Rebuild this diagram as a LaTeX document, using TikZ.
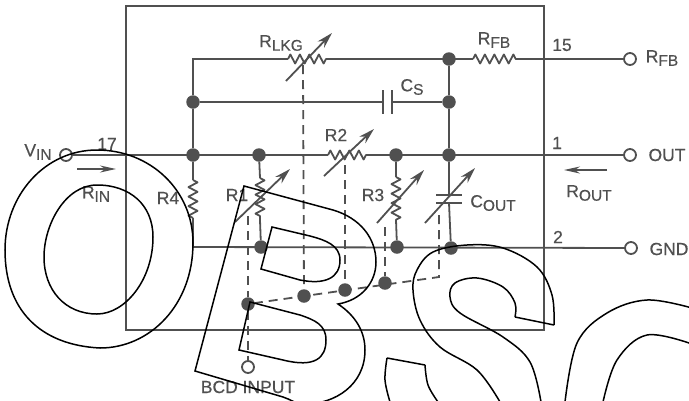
\documentclass[tikz,border=0pt]{standalone}
\usepackage{fontspec}
\setmainfont[FakeBold=0.5]{Liberation Sans}
\usetikzlibrary{arrows.meta}
\usetikzlibrary{decorations.pathmorphing}
\definecolor{ink}{HTML}{505050}
\newcommand{\lowtxt}[1]{\raisebox{-3.5pt}{\fontsize{15.5}{15.5}\selectfont #1}}
\tikzset{
    wire/.style={ink, line width=1.8pt},
    zig/.style={wire, line join=round, decorate, decoration={zigzag, amplitude=4.5pt, segment length=9.5pt}},
    dash wire/.style={ink, line width=1.8pt, dash pattern=on 9pt off 6pt},
    adjust/.style={ink, line width=1.8pt, -{Stealth[length=16pt, width=9pt]}},
    flow/.style={ink, line width=1.8pt, -{Stealth[length=16pt, width=7pt]}},
    junction/.style={circle, fill=ink, inner sep=0pt, minimum size=13.5pt},
    port/.style={circle, draw=ink, line width=1.8pt, fill=white, inner sep=0pt, minimum size=12pt},
    lbl/.style={text=ink, inner sep=0pt, font=\fontsize{17.5}{18}\selectfont},
    wmark/.style={black, line width=1.5pt, line join=miter},
}
\begin{document}
\begin{tikzpicture}[x=1pt,y=-1pt]
    \useasboundingbox (0,0) rectangle (689,400);
    \clip (0,0) rectangle (689,400);
    % package outline
    \draw[wire] (126,6) rectangle (544,330);

    % junctions
    \node[junction] (jCsL) at (193,102) {};
    \node[junction] (jInL) at (193,155) {};
    \node[junction] (jInR1) at (259,155) {};
    \node[junction] (jOutR3) at (396,155) {};
    \node[junction] (jOut) at (449,155) {};
    \node[junction] (jCsR) at (449,102) {};
    \node[junction] (jFb) at (449,59) {};
    \node[junction] (jGndR1) at (261,247) {};
    \node[junction] (jGndR3) at (397,247) {};
    \node[junction] (jGndC) at (451,248) {};
    \node[junction] (jBcdA) at (248,304) {};
    \node[junction] (jBcdB) at (304,296) {};
    \node[junction] (jBcdC) at (345,290) {};
    \node[junction] (jBcdD) at (385,283) {};

    % ports
    \node[port] (pIn) at (66,155) {};
    \node[port] (pFb) at (630,59) {};
    \node[port] (pOut) at (630,155) {};
    \node[port] (pGnd) at (631,248) {};
    \node[port] (pBcd) at (248,367) {};

    % resistor ends
    \coordinate (topL) at (193,59);
    \coordinate (botL) at (193,247);
    \coordinate (lkgA) at (288,59);
    \coordinate (lkgB) at (329,59);
    \coordinate (fbA) at (473,59);
    \coordinate (fbB) at (516,59);
    \coordinate (r2A) at (328,155);
    \coordinate (r2B) at (367,155);
    \coordinate (r4A) at (193,180);
    \coordinate (r4B) at (193,218);
    \coordinate (r1A) at (260,178);
    \coordinate (r1B) at (260,220);
    \coordinate (r3A) at (396,177);
    \coordinate (r3B) at (396,220);
    \coordinate (csA) at (383,102);
    \coordinate (csB) at (392,102);
    \coordinate (coA) at (449,195);
    \coordinate (coB) at (449,203);
    \coordinate (bcdEnd) at (439,277);

    % wires
    \draw[wire] (jCsL) -- (topL) -- (lkgA);
    \draw[zig] (lkgA) -- (lkgB);
    \draw[wire] (lkgB) -- (fbA);
    \draw[zig] (fbA) -- (fbB);
    \draw[wire] (fbB) -- (pFb);
    \draw[wire] (jFb) -- (jCsR) -- (jOut);
    \draw[wire] (jInL) -- (jCsL) -- (csA);
    \draw[wire] (csB) -- (jCsR);
    \draw[wire] (383,90) -- (383,114);
    \draw[wire] (392,90) -- (392,114);
    \draw[wire] (pIn) -- (r2A);
    \draw[zig] (r2A) -- (r2B);
    \draw[wire] (r2B) -- (pOut);
    \draw[wire] (jInL) -- (r4A);
    \draw[zig] (r4A) -- (r4B);
    \draw[wire] (r4B) -- (botL) -- (pGnd);
    \draw[wire] (jInR1) -- (r1A);
    \draw[zig] (r1A) -- (r1B);
    \draw[wire] (r1B) -- (jGndR1);
    \draw[wire] (jOutR3) -- (r3A);
    \draw[zig] (r3A) -- (r3B);
    \draw[wire] (r3B) -- (jGndR3);
    \draw[wire] (jOut) -- (coA);
    \draw[wire] (coB) -- (jGndC);
    \draw[wire] (436,195) -- (462,195);
    \draw[wire] (436,203) -- (462,203);

    % adjust arrows
    \draw[adjust] (286,81) -- (332,33);
    \draw[adjust] (324,176) -- (374,129);
    \draw[adjust] (235,222) -- (290,169);
    \draw[adjust] (377,223) -- (424,170);
    \draw[adjust] (425,223) -- (475,168);
    \draw[flow] (77,169) -- (116,169);
    \draw[flow] (607,170) -- (564,170);

    % digital control
    \draw[dash wire] (303,65) -- (jBcdB);
    \draw[dash wire] (345,165) -- (jBcdC);
    \draw[dash wire] (385,227) -- (jBcdD);
    \draw[dash wire] (248,216) -- (jBcdA) -- (pBcd);
    \draw[dash wire] (439,215) -- (bcdEnd) -- (jBcdA);

    % labels
    \node[lbl] (tLkg) at (281,43) {R\lowtxt{LKG}};
    \node[lbl] (tFb) at (494,40) {R\lowtxt{FB}};
    \node[lbl] (tFbOut) at (662,58) {R\lowtxt{FB}};
    \node[lbl] (t15) at (562,45) {15};
    \node[lbl] (tCs) at (412,87) {C\lowtxt{S}};
    \node[lbl] (tR2) at (336,135) {R2};
    \node[lbl] (tVin) at (38,152) {V\lowtxt{IN}};
    \node[lbl] (t17) at (107,144) {17};
    \node[lbl] (t1) at (557,143) {1};
    \node[lbl] (tOut) at (667,155) {OUT};
    \node[lbl] (tRin) at (96,194) {R\lowtxt{IN}};
    \node[lbl] (tRout) at (589,193) {R\lowtxt{OUT}};
    \node[lbl] (tR4) at (168,198) {R4};
    \node[lbl] (tR1) at (237,195) {R1};
    \node[lbl] (tR3) at (373,195) {R3};
    \node[lbl] (tCout) at (493,203) {C\lowtxt{OUT}};
    \node[lbl] (t2) at (558,237) {2};
    \node[lbl] (tGnd) at (669,249) {GND};
    \node[lbl] (tBcd) at (248,387) {BCD INPUT};

    % stamp across the drawing
    \draw[wmark] (97,150) .. controls (150,150) and (193,190) .. (193,243) .. controls (193,305) and (150,348) .. (100,348) .. controls (40,345) and (5,310) .. (5,250) .. controls (5,195) and (45,150) .. (97,150) -- cycle;
    \draw[wmark] (97,185) .. controls (130,185) and (153,205) .. (153,237) .. controls (153,280) and (125,314) .. (97,314) .. controls (65,314) and (44,290) .. (44,257) .. controls (44,225) and (65,185) .. (97,185) -- cycle;
    \draw[wmark] (195,371) -- (244,186) -- (333,210) .. controls (360,218) and (376,238) .. (376,262) .. controls (376,282) and (362,300) .. (338,304) .. controls (356,316) and (365,332) .. (365,350) .. controls (365,385) and (335,404) .. (305,404) .. controls (295,404) and (290,399) .. (283,397) -- cycle;
    \draw[wmark] (272,227) -- (261,269) -- (300,280) .. controls (325,285) and (340,278) .. (340,260) .. controls (340,245) and (325,240) .. (310,236) -- cycle;
    \draw[wmark] (250,302) -- (239,350) -- (283,360) .. controls (315,368) and (326,358) .. (326,340) .. controls (326,325) and (315,320) .. (300,315) -- cycle;
    \draw[wmark] plot[smooth, tension=.6] coordinates {(500,402) (477,370) (440,347) (420,320) (413,290) (417,270) (433,252) (467,245) (503,248) (537,267) (552,295) (554,325)};
    \draw[wmark] (554,325) -- (515,317);
    \draw[wmark] plot[smooth, tension=.6] coordinates {(515,317) (515,303) (503,287) (477,278) (455,283) (450,297) (460,313) (503,337) (530,362) (541,402)};
    \draw[wmark] plot[smooth, tension=.6] coordinates {(390,402) (385,380) (387,358)};
    \draw[wmark] (387,358) -- (425,365);
    \draw[wmark] plot[smooth, tension=.6] coordinates {(425,365) (428,385) (438,402)};
    \draw[wmark] plot[smooth, tension=.6] coordinates {(565,402) (577,343) (607,313) (647,300) (692,308)};
    \draw[wmark] plot[smooth, tension=.6] coordinates {(603,402) (617,360) (647,335) (692,344)};
\end{tikzpicture}
\end{document}
